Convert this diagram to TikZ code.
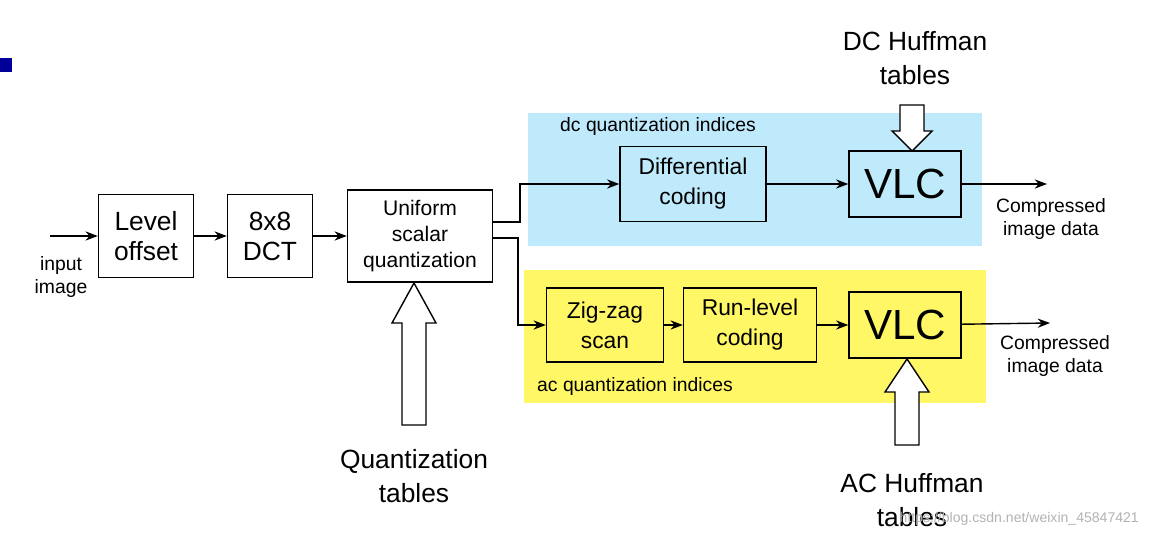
\documentclass[tikz,border=0pt]{standalone}
\usepackage{fontspec}
\setmainfont{Liberation Sans}
\usetikzlibrary{arrows.meta, positioning}
\tikzstyle{block} = [rectangle, draw, line width=.8pt, align=center, inner sep=0pt, font=\fontsize{15}{17}\selectfont]
\tikzstyle{vlc} = [block, minimum width=2.24cm, minimum height=1.32cm, font=\fontsize{24}{26}\selectfont]
\tikzstyle{arrow} = [thick, -{Stealth[length=7pt]}]
\tikzstyle{hollow} = [draw, line width=.8pt, fill=white]
\tikzstyle{note} = [align=center, font=\fontsize{14}{16}\selectfont]
\begin{document}
\begin{tikzpicture}[x=0.02cm, y=-0.02cm]
\useasboundingbox (0,0) rectangle (1151,537);
% background panels
\fill[cyan!25!white] (528,113) rectangle (982,246);
\fill[yellow!60!white] (524,270) rectangle (986,403);
\fill[blue!60!black] (0,58) rectangle (12,72);
% blocks
\node[block, minimum width=1.9cm, minimum height=1.66cm] (level) at (146,236) {Level\\offset};
\node[block, minimum width=1.7cm, minimum height=1.66cm] (dct) at (270,236) {8x8\\DCT};
\node[block, minimum width=2.9cm, minimum height=1.84cm, font=\fontsize{12}{15}\selectfont] (quant) at (420,236) {Uniform\\scalar\\quantization};
\node[block, minimum width=2.92cm, minimum height=1.5cm, fill=cyan!25!white, font=\fontsize{13}{17}\selectfont] (diff) at (693,184) {Differential\\coding};
\node[vlc, fill=cyan!25!white] (vlcdc) at (905,184) {VLC};
\node[block, minimum width=2.34cm, minimum height=1.48cm, fill=yellow!60!white, font=\fontsize{13}{17}\selectfont] (zigzag) at (605,325) {Zig-zag\\scan};
\node[block, minimum width=2.66cm, minimum height=1.48cm, fill=yellow!60!white, font=\fontsize{13}{17}\selectfont] (runlevel) at (750,325) {Run-level\\coding};
\node[vlc, fill=yellow!60!white] (vlcac) at (905,325) {VLC};
% free ends
\coordinate (in) at (50,236);
\coordinate (outdc) at (1047,184);
\coordinate (outac) at (1050,323);
% arrows
\draw[arrow] (in) -- (level);
\draw[arrow] (level) -- (dct);
\draw[arrow] (dct) -- (quant);
\draw[arrow] (quant.east |- 0,222) -- (520,222) |- (diff.west);
\draw[arrow] (quant.east |- 0,238) -- (518,238) |- (zigzag.west);
\draw[arrow] (diff) -- (vlcdc);
\draw[arrow] (zigzag) -- (runlevel);
\draw[arrow] (runlevel) -- (vlcac);
\draw[arrow] (vlcdc) -- (outdc);
\draw[arrow] (vlcac) -- (outac);
% hollow arrows
\coordinate (qtip) at (414,283);
\coordinate (dctip) at (912,151);
\coordinate (actip) at (907,359);
\draw[hollow] (qtip) -- ++(22,40) -- ++(-10,0) -- ++(0,102) -- ++(-24,0) -- ++(0,-102) -- ++(-10,0) -- cycle;
\draw[hollow] (dctip) -- ++(20,-20) -- ++(-8,0) -- ++(0,-26) -- ++(-24,0) -- ++(0,26) -- ++(-8,0) -- cycle;
\draw[hollow] (actip) -- ++(22,33) -- ++(-10,0) -- ++(0,53) -- ++(-24,0) -- ++(0,-53) -- ++(-10,0) -- cycle;
% labels
\node[note, font=\fontsize{11}{13}\selectfont] (inlabel) at (61,277) {input\\image};
\node[note, font=\fontsize{11}{13}\selectfont] (outdclabel) at (1051,219) {Compressed\\image data};
\node[note, font=\fontsize{11}{13}\selectfont] (outaclabel) at (1055,356) {Compressed\\image data};
\node[note, font=\fontsize{11}{13}\selectfont] (dclabel) at (658,127) {dc quantization indices};
\node[note, font=\fontsize{11}{13}\selectfont] (aclabel) at (635,386) {ac quantization indices};
\node[note, font=\fontsize{15}{19}\selectfont] (qtables) at (414,476) {Quantization\\tables};
\node[note, font=\fontsize{15}{19}\selectfont] (dctables) at (915,58) {DC Huffman\\tables};
\node[note, font=\fontsize{15}{19}\selectfont] (actables) at (912,500) {AC Huffman\\tables};
\node[text=gray!60, font=\fontsize{8}{10}\selectfont, anchor=east] (mark) at (1145,519) {https://blog.csdn.net/weixin\_45847421};
\end{tikzpicture}
\end{document}
